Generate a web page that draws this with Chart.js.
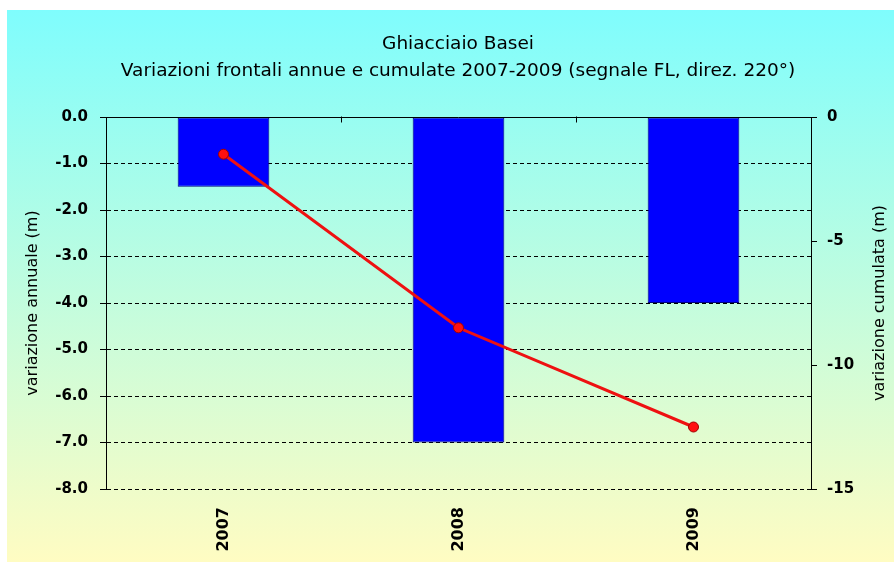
<!DOCTYPE html>
<html><head><meta charset="utf-8">
<script src="https://cdn.jsdelivr.net/npm/chart.js@4.4.0/dist/chart.umd.min.js"></script>
<style>html,body{margin:0;padding:0;background:#fff}#wrap{width:894px;height:562px}</style>
</head><body><div id="wrap"><canvas id="c" width="894" height="562"></canvas></div>
<script>
const categories = ['2007', '2008', '2009'];
const annualValues = [-1.5, -7.0, -4.0];
const cumulativeValues = [-1.5, -8.5, -12.5];
const titleLines = ['Ghiacciaio Basei', 'Variazioni frontali annue e cumulate 2007-2009 (segnale FL, direz. 220°)'];
const leftAxisTitle = 'variazione annuale (m)';
const rightAxisTitle = 'variazione cumulata (m)';

const FONT = "'DejaVu Sans', Arial, sans-serif";

const bgPlugin = {
  id: 'bg',
  beforeDraw(chart) {
    const ctx = chart.ctx;
    ctx.save();
    ctx.fillStyle = '#ffffff';
    ctx.fillRect(0, 0, chart.width, chart.height);
    const g = ctx.createLinearGradient(0, 10, 0, chart.height);
    g.addColorStop(0, '#7ffdfd');
    g.addColorStop(1, '#fffcc2');
    ctx.fillStyle = g;
    ctx.fillRect(7, 10, chart.width - 7, chart.height - 10);
    ctx.restore();
  },
  afterDraw(chart) {
    const ctx = chart.ctx;
    const y = chart.scales.y, x = chart.scales.x;
    const ca = chart.chartArea;
    const y0 = Math.round(y.getPixelForValue(0)) + 0.5;
    ctx.save();
    ctx.strokeStyle = '#000';
    ctx.lineWidth = 1;
    ctx.beginPath();
    ctx.moveTo(ca.left, y0);
    ctx.lineTo(ca.right, y0);
    for (let i = 0; i < categories.length - 1; i++) {
      const px = Math.round((x.getPixelForTick(i) + x.getPixelForTick(i + 1)) / 2) + 0.5;
      ctx.moveTo(px, y0 - 1);
      ctx.lineTo(px, y0 + 5);
    }
    ctx.stroke();
    ctx.fillStyle = '#000';
    ctx.font = '16px ' + FONT;
    ctx.textAlign = 'center';
    ctx.textBaseline = 'middle';
    ctx.translate(880, (ca.top + ca.bottom) / 2);
    ctx.rotate(-Math.PI / 2);
    ctx.fillText(rightAxisTitle, 0, 0);
    ctx.restore();
  }
};

new Chart(document.getElementById('c'), {
  data: {
    labels: categories,
    datasets: [
      {
        type: 'line',
        data: cumulativeValues,
        yAxisID: 'y2',
        borderColor: '#ee1111',
        borderWidth: 3,
        pointRadius: 5,
        pointBackgroundColor: '#ff1010',
        pointBorderColor: '#a00000',
        pointBorderWidth: 1,
        tension: 0,
        order: 0
      },
      {
        type: 'bar',
        data: annualValues,
        yAxisID: 'y',
        backgroundColor: '#0000ff',
        borderColor: '#000080',
        borderWidth: 1,
        borderSkipped: false,
        categoryPercentage: 1,
        barPercentage: 0.39,
        order: 1
      }
    ]
  },
  plugins: [bgPlugin],
  options: {
    responsive: false,
    animation: false,
    layout: { padding: { left: 22, right: 0, top: 0, bottom: 0 } },
    plugins: {
      legend: { display: false },
      tooltip: { enabled: false },
      title: {
        display: true,
        text: titleLines,
        color: '#000',
        font: { family: FONT, size: 18.5, weight: 'normal', lineHeight: 1.46 },
        padding: { top: 31, bottom: 32 }
      }
    },
    scales: {
      x: {
        position: 'bottom',
        offset: true,
        grid: { display: false },
        border: { display: false },
        ticks: {
          color: '#000',
          font: { family: FONT, size: 16, weight: 'bold' },
          minRotation: 90, maxRotation: 90,
          padding: 10
        },
        afterFit(s) { s.height = 73; }
      },
      y: {
        position: 'left',
        min: -8, max: 0,
        ticks: {
          stepSize: 1,
          color: '#000',
          font: { family: FONT, size: 15, weight: 'bold' },
          padding: 12,
          callback: v => v.toFixed(1)
        },
        grid: {
          color: ctx => (ctx.tick && ctx.tick.value === 0) ? 'rgba(0,0,0,0)' : '#000',
          tickColor: '#000',
          tickLength: 6,
          tickBorderDash: [],
          lineWidth: 1
        },
        border: { display: true, color: '#000', width: 1, dash: [4, 3] },
        title: {
          display: true,
          text: leftAxisTitle,
          color: '#000',
          font: { family: FONT, size: 16, weight: 'normal' },
          padding: { top: 1, bottom: 0 }
        },
        afterFit(s) { s.width = 84; }
      },
      y2: {
        position: 'right',
        min: -15, max: 0,
        ticks: {
          stepSize: 5,
          color: '#000',
          font: { family: FONT, size: 15, weight: 'bold' },
          padding: 10
        },
        grid: {
          drawOnChartArea: false,
          tickColor: '#000',
          tickLength: 6,
          tickBorderDash: []
        },
        border: { display: true, color: '#000', width: 1 },
        afterFit(s) { s.width = 83; }
      }
    }
  }
});
</script>
</body></html>
